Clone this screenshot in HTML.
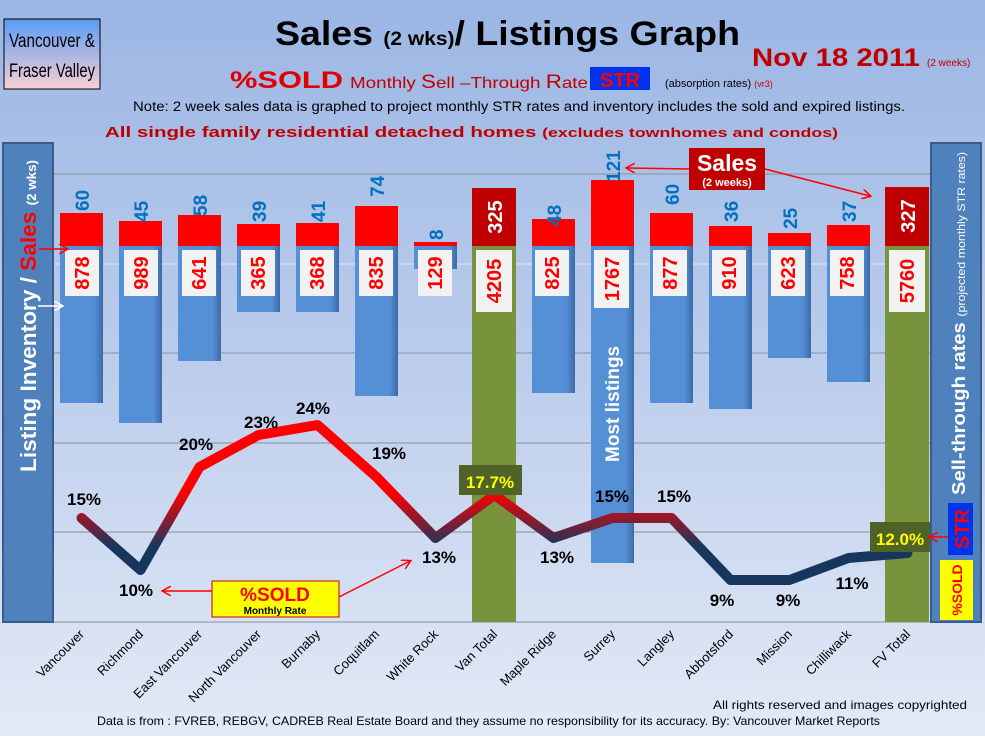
<!DOCTYPE html>
<html><head><meta charset="utf-8"><style>
html,body{margin:0;padding:0;}
body{width:985px;height:736px;overflow:hidden;font-family:"Liberation Sans",sans-serif;}
</style></head><body>
<svg width="985" height="736" viewBox="0 0 985 736" xmlns="http://www.w3.org/2000/svg" font-family="Liberation Sans, sans-serif">
<defs>
<linearGradient id="bg" x1="0" y1="0" x2="0" y2="1">
<stop offset="0" stop-color="#9bb6e4"/><stop offset="0.5" stop-color="#bccdec"/><stop offset="1" stop-color="#e3eaf6"/>
</linearGradient>
<linearGradient id="hb" x1="0" y1="0" x2="0" y2="1">
<stop offset="0" stop-color="#5b9bf5"/><stop offset="1" stop-color="#f8d0d4"/>
</linearGradient>
<linearGradient id="ln" gradientUnits="userSpaceOnUse" x1="0" y1="560" x2="0" y2="470">
<stop offset="0.15" stop-color="#17365d"/><stop offset="0.75" stop-color="#ff0000"/>
</linearGradient>
<linearGradient id="bb" x1="0" y1="0" x2="1" y2="0">
<stop offset="0" stop-color="#5590d6"/><stop offset="0.8" stop-color="#5590d6"/><stop offset="1" stop-color="#3c6aa6"/>
</linearGradient>
<marker id="ar" markerWidth="10" markerHeight="10" refX="8" refY="5" orient="auto" markerUnits="userSpaceOnUse"><path d="M0,0 L9,5 L0,10" fill="none" stroke="#f00" stroke-width="1.5"/></marker>
<marker id="aw" markerWidth="10" markerHeight="10" refX="8" refY="5" orient="auto" markerUnits="userSpaceOnUse"><path d="M0,0 L9,5 L0,10" fill="none" stroke="#fff" stroke-width="1.5"/></marker>
</defs>
<rect width="985" height="736" fill="url(#bg)"/>

<!-- header -->
<rect x="4" y="19" width="96" height="70" fill="url(#hb)" stroke="#000" stroke-width="1"/>
<text x="9" y="47" font-size="19" textLength="86" lengthAdjust="spacingAndGlyphs">Vancouver &amp;</text>
<text x="9" y="77" font-size="19" textLength="86" lengthAdjust="spacingAndGlyphs">Fraser Valley</text>
<text x="275" y="45" font-size="34" font-weight="bold" textLength="465" lengthAdjust="spacingAndGlyphs">Sales <tspan font-size="19">(2 wks)</tspan>/ Listings Graph</text>
<text x="752" y="66" font-size="25" font-weight="bold" fill="#c00000" textLength="168" lengthAdjust="spacingAndGlyphs">Nov 18 2011</text>
<text x="927" y="66" font-size="10" fill="#c00000">(2 weeks)</text>
<text x="230" y="88" font-size="24" font-weight="bold" fill="#e00000" textLength="113" lengthAdjust="spacingAndGlyphs">%SOLD</text>
<text x="350" y="88" font-size="16" fill="#c00000" textLength="238" lengthAdjust="spacingAndGlyphs">Monthly <tspan font-size="19">S</tspan>ell –Through <tspan font-size="19">R</tspan>ate</text>
<rect x="590" y="67" width="60" height="23" fill="#0033ee"/>
<text x="620" y="87" font-size="20" font-weight="bold" fill="#ff0000" text-anchor="middle">STR</text>
<text x="665" y="87" font-size="11">(absorption rates) <tspan fill="#c00000" font-size="9">(vr3)</tspan></text>
<text x="133" y="111" font-size="13.5" textLength="772" lengthAdjust="spacingAndGlyphs">Note: 2 week sales data is graphed to project monthly STR rates and inventory includes the sold and expired listings.</text>
<text x="105" y="137" font-size="15" font-weight="bold" fill="#c00000" textLength="733" lengthAdjust="spacingAndGlyphs">All single family residential detached homes <tspan font-size="13">(excludes townhomes and condos)</tspan></text>

<!-- gridlines -->
<g stroke="#8a8f99" stroke-width="1">
<line x1="54" y1="174" x2="930" y2="174"/>
<line x1="54" y1="353" x2="930" y2="353"/>
<line x1="54" y1="443" x2="930" y2="443"/>
<line x1="54" y1="532" x2="930" y2="532"/>
<line x1="54" y1="622" x2="930" y2="622"/>
</g>
<line x1="54" y1="264" x2="930" y2="264" stroke="#dfe6f3" stroke-width="1"/>

<!-- blue bars -->
<g fill="url(#bb)">
<rect x="60" y="246" width="43" height="157"/>
<rect x="119" y="246" width="43" height="177"/>
<rect x="178" y="246" width="43" height="115"/>
<rect x="237" y="246" width="43" height="66"/>
<rect x="296" y="246" width="43" height="66"/>
<rect x="355" y="246" width="43" height="150"/>
<rect x="414" y="246" width="43" height="23"/>
<rect x="532" y="246" width="43" height="147"/>
<rect x="591" y="246" width="43" height="317"/>
<rect x="650" y="246" width="43" height="157"/>
<rect x="709" y="246" width="43" height="163"/>
<rect x="768" y="246" width="43" height="112"/>
<rect x="827" y="246" width="43" height="136"/>
</g>
<!-- green bars -->
<rect x="472" y="246" width="44" height="376" fill="#77933c"/>
<rect x="885" y="246" width="44" height="376" fill="#77933c"/>
<!-- red sales -->
<g fill="#ff0000">
<rect x="60" y="213" width="43" height="33"/>
<rect x="119" y="221" width="43" height="25"/>
<rect x="178" y="215" width="43" height="31"/>
<rect x="237" y="224" width="43" height="22"/>
<rect x="296" y="223" width="43" height="23"/>
<rect x="355" y="206" width="43" height="40"/>
<rect x="414" y="242" width="43" height="4"/>
<rect x="532" y="219" width="43" height="27"/>
<rect x="591" y="180" width="43" height="66"/>
<rect x="650" y="213" width="43" height="33"/>
<rect x="709" y="226" width="43" height="20"/>
<rect x="768" y="233" width="43" height="13"/>
<rect x="827" y="225" width="43" height="21"/>
</g>
<rect x="472" y="188" width="44" height="58" fill="#c00000"/>
<rect x="885" y="187" width="44" height="59" fill="#c00000"/>

<!-- sales numbers -->
<g font-size="19" font-weight="bold" fill="#0070c0">
<text transform="translate(89,211) rotate(-90)">60</text>
<text transform="translate(148,222) rotate(-90)">45</text>
<text transform="translate(207,216) rotate(-90)">58</text>
<text transform="translate(266,222) rotate(-90)">39</text>
<text transform="translate(325,222) rotate(-90)">41</text>
<text transform="translate(384,197) rotate(-90)">74</text>
<text transform="translate(443,240) rotate(-90)">8</text>
<text transform="translate(561,226) rotate(-90)">48</text>
<text transform="translate(620,182) rotate(-90)">121</text>
<text transform="translate(679,205) rotate(-90)">60</text>
<text transform="translate(738,222) rotate(-90)">36</text>
<text transform="translate(797,229) rotate(-90)">25</text>
<text transform="translate(856,222) rotate(-90)">37</text>
</g>
<g font-size="20" font-weight="bold" fill="#fff" text-anchor="middle">
<text transform="translate(502,217) rotate(-90)">325</text>
<text transform="translate(915,216) rotate(-90)">327</text>
</g>

<!-- inventory boxes -->
<g fill="#f2f2f2">
<rect x="65" y="250" width="34" height="46"/>
<rect x="124" y="250" width="34" height="46"/>
<rect x="182" y="250" width="34" height="46"/>
<rect x="241" y="250" width="34" height="46"/>
<rect x="300" y="250" width="34" height="46"/>
<rect x="359" y="250" width="34" height="46"/>
<rect x="418" y="250" width="34" height="46"/>
<rect x="476" y="250" width="36" height="62"/>
<rect x="535" y="250" width="34" height="46"/>
<rect x="594" y="250" width="35" height="58"/>
<rect x="653" y="250" width="34" height="46"/>
<rect x="712" y="250" width="34" height="46"/>
<rect x="771" y="250" width="34" height="46"/>
<rect x="830" y="250" width="34" height="46"/>
<rect x="889" y="250" width="36" height="62"/>
</g>
<g font-size="20" font-weight="bold" fill="#ff0000" text-anchor="middle">
<text transform="translate(89,273) rotate(-90)">878</text>
<text transform="translate(148,273) rotate(-90)">989</text>
<text transform="translate(206,273) rotate(-90)">641</text>
<text transform="translate(265,273) rotate(-90)">365</text>
<text transform="translate(324,273) rotate(-90)">368</text>
<text transform="translate(383,273) rotate(-90)">835</text>
<text transform="translate(442,273) rotate(-90)">129</text>
<text transform="translate(501,281) rotate(-90)">4205</text>
<text transform="translate(559,273) rotate(-90)">825</text>
<text transform="translate(619,279) rotate(-90)">1767</text>
<text transform="translate(677,273) rotate(-90)">877</text>
<text transform="translate(736,273) rotate(-90)">910</text>
<text transform="translate(795,273) rotate(-90)">623</text>
<text transform="translate(854,273) rotate(-90)">758</text>
<text transform="translate(914,281) rotate(-90)">5760</text>
</g>
<text transform="translate(619,462) rotate(-90)" font-size="19" font-weight="bold" fill="#fff">Most listings</text>

<!-- line -->
<polyline points="81.5,518 140.5,570 199.5,467 258.5,435 317.5,425 376.5,477 435.5,538 494.5,495 553.5,538 612.5,518 671.5,518 730.5,580 789.5,580 848.5,558 907.5,553" fill="none" stroke="url(#ln)" stroke-width="10" stroke-linejoin="round" stroke-linecap="round"/>

<!-- pct labels -->
<g font-size="17" font-weight="bold" fill="#000" text-anchor="middle">
<text x="84" y="505">15%</text>
<text x="136" y="596">10%</text>
<text x="196" y="450">20%</text>
<text x="261" y="428">23%</text>
<text x="313" y="414">24%</text>
<text x="389" y="459">19%</text>
<text x="439" y="563">13%</text>
<text x="557" y="563">13%</text>
<text x="612" y="502">15%</text>
<text x="674" y="502">15%</text>
<text x="722" y="606">9%</text>
<text x="788" y="606">9%</text>
<text x="852" y="589">11%</text>
</g>
<rect x="459" y="465" width="63" height="30" fill="#4f6228"/>
<text x="490" y="488" font-size="17" font-weight="bold" fill="#ffff00" text-anchor="middle">17.7%</text>
<rect x="870" y="522" width="60" height="30" fill="#4f6228"/>
<text x="900" y="545" font-size="17" font-weight="bold" fill="#ffff00" text-anchor="middle">12.0%</text>

<!-- %SOLD callout -->
<rect x="212" y="581" width="127" height="36" fill="#ffff00" stroke="#c00000" stroke-width="1"/>
<text x="275" y="601" font-size="19" font-weight="bold" fill="#ff0000" text-anchor="middle">%SOLD</text>
<text x="275" y="614" font-size="10" font-weight="bold" fill="#000" text-anchor="middle">Monthly Rate</text>
<line x1="212" y1="591" x2="163" y2="591" stroke="#f00" stroke-width="1.5" marker-end="url(#ar)"/>
<line x1="339" y1="597" x2="410" y2="561" stroke="#f00" stroke-width="1.5" marker-end="url(#ar)"/>

<!-- Sales callout -->
<rect x="689" y="148" width="76" height="42" fill="#c00000"/>
<text x="727" y="171" font-size="23" font-weight="bold" fill="#fff" text-anchor="middle">Sales</text>
<text x="727" y="186" font-size="11" font-weight="bold" fill="#fff" text-anchor="middle">(2 weeks)</text>
<line x1="689" y1="169" x2="627" y2="168" stroke="#f00" stroke-width="1.5" marker-end="url(#ar)"/>
<line x1="765" y1="169" x2="870" y2="196" stroke="#f00" stroke-width="1.5" marker-end="url(#ar)"/>

<!-- left panel -->
<rect x="3" y="143" width="50" height="479" fill="#4f81bd" stroke="#385d8a" stroke-width="2"/>
<text transform="translate(36,472) rotate(-90)" font-size="22" font-weight="bold" fill="#fff" textLength="312" lengthAdjust="spacingAndGlyphs">Listing Inventory / <tspan fill="#ff0000">Sales</tspan> <tspan font-size="13">(2 wks)</tspan></text>
<line x1="39" y1="249" x2="67" y2="249" stroke="#f00" stroke-width="1.5" marker-end="url(#ar)"/>
<line x1="38" y1="306" x2="62" y2="306" stroke="#fff" stroke-width="1.5" marker-end="url(#aw)"/>

<!-- right panel -->
<rect x="931" y="143" width="50" height="479" fill="#4f81bd" stroke="#385d8a" stroke-width="2"/>
<text transform="translate(965,495) rotate(-90)" font-size="18" font-weight="bold" fill="#fff" textLength="343" lengthAdjust="spacingAndGlyphs">Sell-through rates <tspan font-size="11" font-weight="normal">(projected monthly STR rates)</tspan></text>
<rect x="948" y="503" width="25" height="52" fill="#0033ee"/>
<text transform="translate(969,529) rotate(-90)" font-size="20" font-weight="bold" fill="#ff0000" text-anchor="middle">STR</text>
<rect x="940" y="560" width="33" height="60" fill="#ffff00"/>
<text transform="translate(962,590) rotate(-90)" font-size="14" font-weight="bold" fill="#ff0000" text-anchor="middle">%SOLD</text>
<line x1="948" y1="537" x2="930" y2="537" stroke="#f00" stroke-width="1.5" marker-end="url(#ar)"/>

<!-- x labels -->
<g font-size="13" fill="#000" text-anchor="end">
<text transform="translate(85,635) rotate(-45)">Vancouver</text>
<text transform="translate(144,635) rotate(-45)">Richmond</text>
<text transform="translate(203,635) rotate(-45)">East Vancouver</text>
<text transform="translate(262,635) rotate(-45)">North Vancouver</text>
<text transform="translate(321,635) rotate(-45)">Burnaby</text>
<text transform="translate(380,635) rotate(-45)">Coquitlam</text>
<text transform="translate(439,635) rotate(-45)">White Rock</text>
<text transform="translate(498,635) rotate(-45)">Van Total</text>
<text transform="translate(557,635) rotate(-45)">Maple Ridge</text>
<text transform="translate(616,635) rotate(-45)">Surrey</text>
<text transform="translate(675,635) rotate(-45)">Langley</text>
<text transform="translate(734,635) rotate(-45)">Abbotsford</text>
<text transform="translate(793,635) rotate(-45)">Mission</text>
<text transform="translate(852,635) rotate(-45)">Chilliwack</text>
<text transform="translate(911,635) rotate(-45)">FV Total</text>
</g>

<!-- footer -->
<text x="713" y="709" font-size="12" textLength="254" lengthAdjust="spacingAndGlyphs">All rights reserved and  images copyrighted</text>
<text x="97" y="725" font-size="12" textLength="783" lengthAdjust="spacingAndGlyphs">Data is from : FVREB, REBGV, CADREB Real Estate Board and they assume no responsibility for its accuracy. By: Vancouver Market Reports</text>
</svg>
</body></html>
